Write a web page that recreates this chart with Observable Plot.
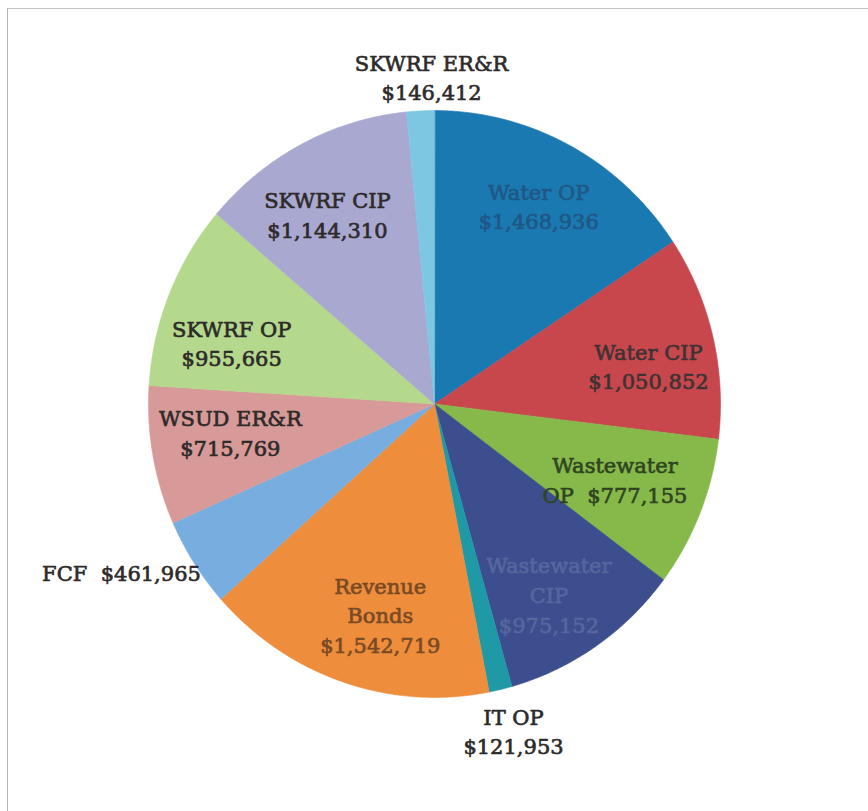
<!DOCTYPE html>
<html>
<head>
<meta charset="utf-8">
<script src="https://cdn.jsdelivr.net/npm/d3@7"></script>
<script src="https://cdn.jsdelivr.net/npm/@observablehq/plot@0.6"></script>
<style>
  html, body { margin: 0; padding: 0; background: #fff; }
  #wrap { position: relative; width: 868px; height: 811px; overflow: hidden; }
  #frame { position: absolute; left: 7px; top: 8px; width: 900px; height: 900px;
           border-left: 1px solid #b4b4b4; border-top: 1px solid #c4c4c4; pointer-events: none; }
  #chart { position: absolute; left: 0; top: 0; }
</style>
</head>
<body>
<div id="wrap"><div id="chart"></div><div id="frame"></div></div>
<script>
// ---- data ----
const categories = ["Water OP", "Water CIP", "Wastewater OP", "Wastewater CIP", "IT OP",
  "Revenue Bonds", "FCF", "WSUD ER&R", "SKWRF OP", "SKWRF CIP", "SKWRF ER&R"];
const values = [1468936, 1050852, 777155, 975152, 121953, 1542719, 461965, 715769, 955665, 1144310, 146412];
// label text as printed (name part and separator before the amount)
const labelNames = ["Water OP", "Water CIP", "Wastewater\nOP", "Wastewater\nCIP", "IT OP",
  "Revenue\nBonds", "FCF", "WSUD ER&R", "SKWRF OP", "SKWRF CIP", "SKWRF ER&R"];
const labelSeps = ["\n", "\n", "  ", "\n", "\n", "\n", "  ", "\n", "\n", "\n", "\n"];

// ---- styles / layout ----
const sliceColors = ["#1b79b1", "#c8474d", "#86b94a", "#3c4e8e", "#1f99a6",
  "#ee8d3c", "#78ade0", "#d79a98", "#b4d88c", "#a8a8d0", "#7ec7e3"];
const labelColors = ["#1f5785", "#3d3333", "#2f4420", "#56669e", "#2a2a2a",
  "#7a4a24", "#2e2a2a", "#2e2a2a", "#2e2a2a", "#2e2a2a", "#2e2a2a"];
const labelRadius = [0.77, 0.76, 0.68, 0.76, 1.145, 0.74, 1.235, 0.72, 0.74, 0.75, 1.118];
const labelTurn = [0, 3.2, 0, 2.7, -0.6, -3.8, 5.2, 2.7, -5.4, -2.3, 2.3];
const ry = 1.026; // slight vertical stretch of the scanned pie

const fmt = d3.format(",");
const pie = d3.pie().sort(null).value(d => d)(values);
const rad = a => a * Math.PI / 180;

const slices = pie.map((p, i) => {
  const ring = [[0, 0]];
  const a0 = p.startAngle, a1 = p.endAngle;
  const n = Math.max(2, Math.ceil((a1 - a0) / rad(0.5)));
  for (let k = 0; k <= n; ++k) {
    const a = a0 + (a1 - a0) * k / n;
    ring.push([Math.sin(a), -Math.cos(a) * ry]);
  }
  ring.push([0, 0]);
  return {type: "Feature", properties: {name: categories[i], color: sliceColors[i]},
          geometry: {type: "Polygon", coordinates: [ring]}};
});

const labels = pie.map((p, i) => {
  const a = (p.startAngle + p.endAngle) / 2 + rad(labelTurn[i]);
  const r = labelRadius[i];
  return {x: Math.sin(a) * r, y: -Math.cos(a) * r * ry,
          text: labelNames[i] + labelSeps[i] + "$" + fmt(values[i]), color: labelColors[i]};
});

const chart = Plot.plot({
  width: 868,
  height: 811,
  margin: 0,
  projection: {
    type: "identity",
    domain: {type: "MultiPoint", coordinates: [[-1, -ry], [1, ry]]},
    insetLeft: 148, insetRight: 148, insetTop: 110, insetBottom: 114
  },
  color: {type: "identity"},
  marks: [
    Plot.geo(slices, {fill: d => d.properties.color, stroke: d => d.properties.color, strokeWidth: 0.6}),
    Plot.text(labels, {
      x: "x", y: "y", text: "text", fill: "color", stroke: "color", strokeWidth: 0.65,
      fontFamily: "DejaVu Serif", fontSize: 21, lineHeight: 1.42, textAnchor: "middle"
    })
  ]
});
document.getElementById("chart").appendChild(chart);
</script>
</body>
</html>
